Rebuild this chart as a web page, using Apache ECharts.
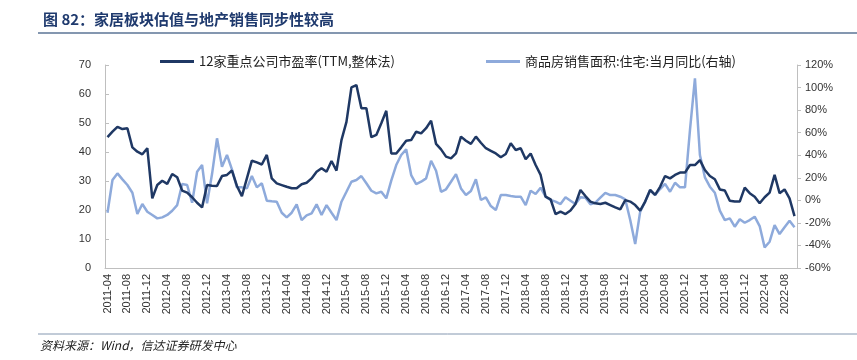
<!DOCTYPE html>
<html><head><meta charset="utf-8">
<script src="https://cdn.jsdelivr.net/npm/echarts@6/dist/echarts.min.js"></script>
<style>html,body{margin:0;padding:0;background:#fff}#c{width:857px;height:360px}</style>
</head><body><div id="c"></div>
<script>
// categories: monthly 2011-04 .. 2022-10
var startYear = 2011, startMonth = 4, monthCount = 139;
var categories = [];
for (var k = 0; k < monthCount; k++) {
  var m = startMonth - 1 + k;
  var y = startYear + Math.floor(m / 12);
  var mm = (m % 12) + 1;
  categories.push(y + '-' + (mm < 10 ? '0' + mm : mm));
}
var seriesNames = ['12家重点公司市盈率(TTM,整体法)', '商品房销售面积:住宅:当月同比(右轴)'];
var peValues = [45.1,47.0,48.7,47.9,48.2,41.6,40.1,39.2,41.3,24.0,28.6,30.1,29.0,32.4,31.3,26.7,26.0,24.4,22.5,20.9,
28.6,28.4,28.3,31.7,32.1,33.6,28.3,24.8,30.9,37.0,36.4,35.7,39.0,30.9,29.2,28.6,28.0,27.5,27.5,28.9,
29.4,30.9,33.2,34.4,33.2,36.9,33.6,44.1,50.4,62.3,63.1,55.1,55.1,45.1,45.9,49.9,54.2,39.5,39.5,41.6,
43.9,44.1,47.0,46.4,48.2,50.8,42.8,40.9,38.4,37.8,39.5,45.3,43.9,42.8,45.3,43.2,41.3,40.4,39.5,38.2,
39.3,43.0,40.7,41.3,37.5,39.5,35.5,32.1,24.6,23.7,18.6,19.4,18.6,19.8,22.1,26.9,24.8,22.9,22.3,22.1,
22.5,21.7,20.9,20.2,23.4,22.9,21.7,19.8,22.9,26.9,25.2,28.0,31.7,30.9,32.1,32.9,32.9,35.5,35.5,37.2,
33.8,31.7,30.6,27.1,26.7,23.2,22.9,22.9,27.7,25.8,24.6,22.3,24.4,26.0,32.1,25.8,27.1,24.0,17.9];
var salesYoY = [-11.0,18.0,23.9,18.6,13.6,6.7,-12.1,-3.3,-10.1,-13.0,-16.0,-15.1,-13.0,-9.2,-4.2,14.4,13.6,-2.1,25.4,31.3,
-2.7,23.3,55.0,29.8,40.2,27.5,11.5,11.5,10.6,21.5,11.5,15.1,-0.3,-0.9,-1.2,-11.0,-15.1,-11.0,-3.5,-17.5,
-13.3,-11.5,-3.5,-13.0,-4.2,-11.0,-17.5,-1.2,7.6,16.5,18.0,21.5,15.1,8.5,6.2,7.6,1.8,17.4,31.3,40.2,
45.2,22.4,14.4,16.5,19.5,35.1,26.2,7.6,9.8,16.5,23.3,10.6,4.7,8.2,18.6,0.3,2.7,-5.1,-8.6,4.7,
4.7,3.8,3.2,3.2,-4.2,8.5,5.6,11.2,3.2,0.3,-1.2,-3.3,2.7,-0.3,-3.3,2.7,2.3,-3.5,-2.1,2.3,
6.7,4.7,4.7,3.2,0.9,-17.5,-38.7,-10.1,-1.2,9.1,4.7,10.0,14.6,7.6,15.6,11.5,11.5,62.3,108.2,40.2,
20.4,12.1,6.7,-9.2,-17.5,-16.0,-23.4,-16.8,-19.9,-17.5,-14.5,-22.8,-41.7,-36.7,-21.9,-29.9,-23.9,-18.1,-23.9];
var leftAxis = {min: 0, max: 70, interval: 10};
var rightAxis = {min: -60, max: 120, interval: 20};
var titleText = '图 82：家居板块估值与地产销售同步性较高';
var sourceText = '资料来源：Wind，信达证券研发中心';

var FONT = '"Liberation Sans", Arial, "Noto Sans CJK SC", sans-serif';
var CJK = '"Noto Sans CJK SC", sans-serif';
var legendText = {fontSize: 13, color: '#222', fontFamily: CJK};
var chart = echarts.init(document.getElementById('c'), null, {renderer: 'canvas'});
chart.setOption({
  animation: false,
  backgroundColor: '#fff',
  title: {text: titleText, left: 38, top: 7,
    textStyle: {fontSize: 15, fontWeight: 'bold', color: '#1f3a6e', fontFamily: CJK}},
  graphic: [
    {type: 'line', shape: {x1: 38, y1: 33, x2: 857, y2: 33}, style: {stroke: '#8497b0', lineWidth: 2}},
    {type: 'line', shape: {x1: 38, y1: 334, x2: 857, y2: 334}, style: {stroke: '#8497b0', lineWidth: 1}},
    {type: 'text', left: 40, top: 339, style: {text: sourceText, fill: '#222',
      font: 'italic 12px "Noto Sans CJK SC", sans-serif'}}
  ],
  legend: [
    {top: 50, left: 155, itemWidth: 34, itemHeight: 3, icon: 'rect', itemGap: 6,
      textStyle: legendText, data: [seriesNames[0]]},
    {top: 50, left: 481, itemWidth: 34, itemHeight: 3, icon: 'rect', itemGap: 6,
      textStyle: legendText, data: [seriesNames[1]]}
  ],
  grid: {left: 105, right: 60, top: 65, bottom: 92, containLabel: false},
  xAxis: {type: 'category', data: categories, boundaryGap: true,
    axisLine: {lineStyle: {color: '#bfbfbf', width: 1}},
    axisTick: {inside: true, length: 4, interval: 3, lineStyle: {color: '#bfbfbf'}},
    axisLabel: {interval: 3, rotate: 90, fontSize: 11, color: '#333', fontFamily: FONT, margin: 6},
    splitLine: {show: false}},
  yAxis: [
    {type: 'value', min: leftAxis.min, max: leftAxis.max, interval: leftAxis.interval,
      axisLine: {show: true, lineStyle: {color: '#bfbfbf'}},
      axisTick: {show: true, inside: true, length: 4, lineStyle: {color: '#bfbfbf'}},
      axisLabel: {fontSize: 11, color: '#333', fontFamily: FONT, margin: 14},
      splitLine: {show: false}},
    {type: 'value', min: rightAxis.min, max: rightAxis.max, interval: rightAxis.interval, position: 'right',
      axisLine: {show: true, lineStyle: {color: '#bfbfbf'}},
      axisTick: {show: true, inside: false, length: 4, lineStyle: {color: '#bfbfbf'}},
      axisLabel: {fontSize: 11, color: '#333', fontFamily: FONT, margin: 8, formatter: '{value}%'},
      splitLine: {show: false}}
  ],
  series: [
    {name: seriesNames[0], type: 'line', yAxisIndex: 0, data: peValues, symbol: 'none',
      lineStyle: {color: '#1f3864', width: 2.5}, itemStyle: {color: '#1f3864'}, z: 3},
    {name: seriesNames[1], type: 'line', yAxisIndex: 1, data: salesYoY, symbol: 'none',
      lineStyle: {color: '#8eaadb', width: 2.5}, itemStyle: {color: '#8eaadb'}, z: 2}
  ]
});
</script></body></html>
